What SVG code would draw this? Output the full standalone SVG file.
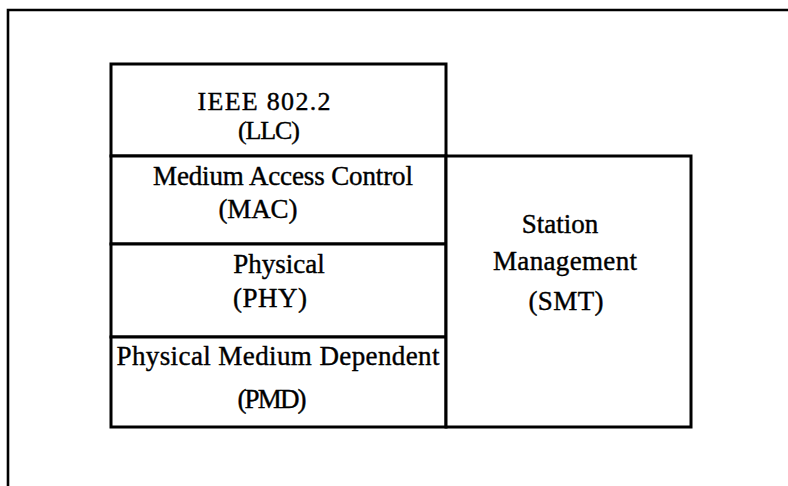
<svg xmlns="http://www.w3.org/2000/svg" width="788" height="486" viewBox="0 0 788 486">
<style>
.box{fill:#fff;stroke:#000;stroke-width:3}
.frame{fill:none;stroke:#000;stroke-width:2.6}
text{font-family:"Liberation Serif","Times New Roman",serif;font-size:27px;fill:#000;stroke:#000;stroke-width:0.4;text-anchor:middle}
.sm{font-size:26px}
</style>
<rect width="788" height="486" fill="#fff"/>
<g id="frame"><path class="frame" d="M8,486 V10 H788"/></g>
<g id="llc">
<rect class="box" x="111" y="64" width="335" height="92"/>
<text class="sm" x="264" y="110" textLength="133">IEEE 802.2</text>
<text class="sm" x="269" y="139" textLength="62">(LLC)</text>
</g>
<g id="mac">
<rect class="box" x="111" y="156" width="335" height="88"/>
<text x="283" y="185" textLength="260">Medium Access Control</text>
<text x="258" y="218" textLength="79">(MAC)</text>
</g>
<g id="phy">
<rect class="box" x="111" y="244" width="335" height="93"/>
<text x="279" y="273">Physical</text>
<text x="270" y="307" textLength="74">(PHY)</text>
</g>
<g id="pmd">
<rect class="box" x="111" y="337" width="335" height="90"/>
<text x="278" y="365" textLength="323">Physical Medium Dependent</text>
<text x="272" y="408" textLength="69">(PMD)</text>
</g>
<g id="smt">
<rect class="box" x="446" y="156" width="245" height="271"/>
<text x="560" y="233">Station</text>
<text x="565" y="270" textLength="144">Management</text>
<text x="566" y="310" textLength="75">(SMT)</text>
</g>
<g id="connectors"></g>
</svg>
